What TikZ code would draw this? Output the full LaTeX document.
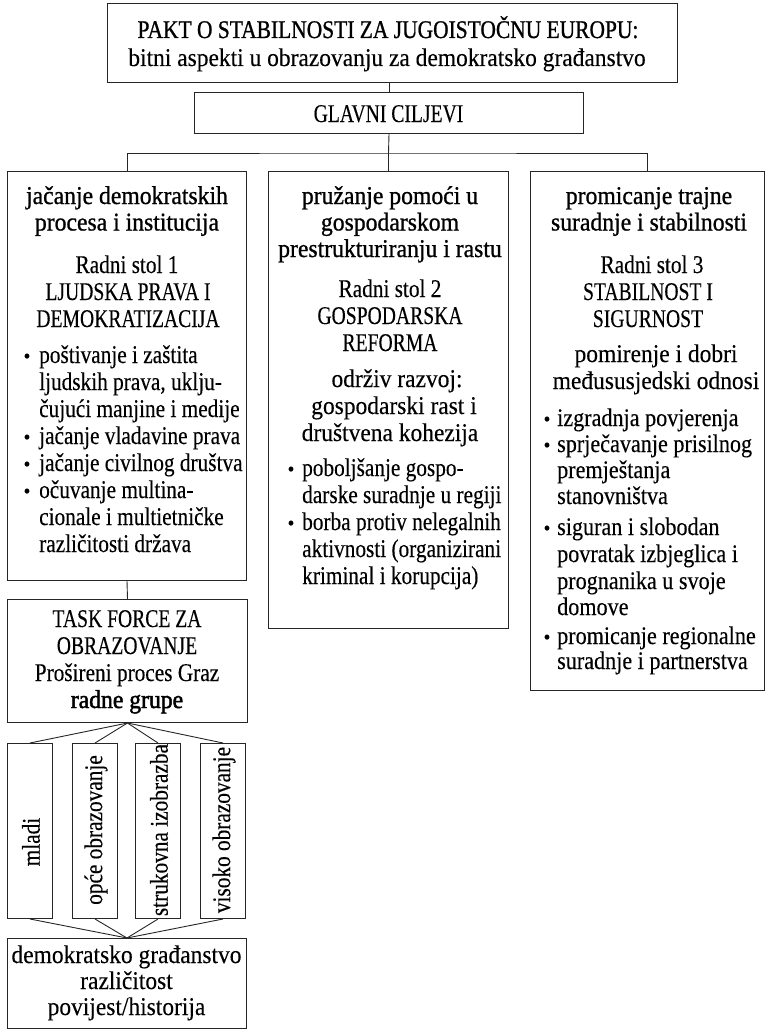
\documentclass[tikz,border=0pt]{standalone}
\usepackage{fontspec}
\setmainfont[FakeStretch=0.92,FakeBold=0.25]{Liberation Serif}
\newfontfamily\headf[FakeStretch=0.925,FakeBold=0.9]{Liberation Serif}
\newfontfamily\capsf[FakeStretch=0.77,FakeBold=0.25]{Liberation Serif}
\newfontfamily\listf[FakeStretch=0.835,FakeBold=0.25]{Liberation Serif}
\newfontfamily\listrf[FakeStretch=0.875,FakeBold=0.25]{Liberation Serif}
\newfontfamily\paktf[FakeStretch=0.845,FakeBold=0.9]{Liberation Serif}
\newfontfamily\boldf[FakeStretch=0.92,FakeBold=1.8]{Liberation Serif}
\begin{document}
\begin{tikzpicture}[x=1pt,y=-1pt,
  box/.style={draw=black!85,line width=1pt,inner sep=0pt,anchor=north west},
  conn/.style={draw=black!85,line width=0.9pt},
  txt/.style={inner sep=0pt,anchor=base,font=\fontsize{25.5}{27}\selectfont},
  capt/.style={txt,font=\fontsize{25.5}{27}\capsf},
  listt/.style={txt,font=\fontsize{25.5}{27}\listf},
  head/.style={txt,font=\fontsize{25.6}{27}\headf},
  pakt/.style={txt,font=\fontsize{25.4}{27}\paktf},
  bhead/.style={txt,font=\fontsize{25.7}{27}\boldf},
  ltxt/.style={listt,anchor=base west},
  rtxt/.style={txt,anchor=base west,font=\fontsize{25.3}{27}\listrf},
  bul/.style={txt,anchor=base,font=\fontsize{21}{26}\selectfont},
  vtxt/.style={inner sep=0pt,rotate=90,anchor=center,font=\fontsize{25.5}{27}\listf}]
\useasboundingbox (0,0) rectangle (766,1030);
% boxes
\node[box,minimum width=570pt,minimum height=79pt] (top) at (107,3) {};
\node[box,minimum width=389pt,minimum height=41pt] (glavni) at (194,92) {};
\node[box,minimum width=239pt,minimum height=409pt] (L) at (7,171) {};
\node[box,minimum width=240pt,minimum height=457pt] (M) at (268,171) {};
\node[box,minimum width=234pt,minimum height=519pt] (R) at (530,171) {};
\node[box,minimum width=240pt,minimum height=123pt] (T) at (7,599) {};
\node[box,minimum width=45pt,minimum height=175pt] (v1) at (7,743) {};
\node[box,minimum width=45pt,minimum height=175pt] (v2) at (72,743) {};
\node[box,minimum width=45pt,minimum height=175pt] (v3) at (135,743) {};
\node[box,minimum width=45pt,minimum height=175pt] (v4) at (200,743) {};
\node[box,minimum width=239pt,minimum height=90pt] (B) at (7,938) {};
% connectors
\coordinate (hub) at (388.5,153);
\draw[conn] (glavni.north |- top.south) -- (glavni.north);
\draw[conn] (glavni.south) -- (hub);
\draw[conn] (L.north) |- (hub) -| (R.north);
\draw[conn] (hub) -- (M.north);
\draw[conn] (L.south) -- (T.north);
\foreach \v in {v1,v2,v3,v4} {
  \draw[conn] (T.south) -- (\v.north);
  \draw[conn] (\v.south) -- (B.north);
}
% top texts
\node[pakt] (t1) at (388,38) {PAKT O STABILNOSTI ZA JUGOISTOČNU EUROPU:};
\node[txt] (t2) at (387,66) {bitni aspekti u obrazovanju za demokratsko građanstvo};
\node[capt] (g1) at (388.5,122) {GLAVNI CILJEVI};
% left column
\foreach \yy/\myline [count=\i] in {204/jačanje demokratskih,230.5/procesa i institucija}
  \node[head] (Lh\i) at (127,\yy) {\myline};
\node[listt] (Ls1) at (127,273) {Radni stol 1};
\foreach \yy/\myline [count=\i] in {300/LJUDSKA PRAVA I,327/DEMOKRATIZACIJA}
  \node[capt] (Lc\i) at (128,\yy) {\myline};
\foreach \yy/\myline [count=\i] in {363/poštivanje i zaštita,390/{ljudskih prava, uklju-},417/čujući manjine i medije,444/jačanje vladavine prava,471/jačanje civilnog društva,498/očuvanje multina-,525/cionale i multietničke,552/različitosti država}
  \node[ltxt] (Ll\i) at (39,\yy) {\myline};
\foreach \yy [count=\i] in {363,444,471,498}
  \node[bul] (Lb\i) at (27,\yy) {\textbullet};
% middle column
\foreach \yy/\myline [count=\i] in {204/pružanje pomoći u,230.5/gospodarskom,257/prestrukturiranju i rastu}
  \node[head] (Mh\i) at (390,\yy) {\myline};
\node[listt] (Ms1) at (390,297) {Radni stol 2};
\foreach \yy/\myline [count=\i] in {324/GOSPODARSKA,351/REFORMA}
  \node[capt] (Mc\i) at (390,\yy) {\myline};
\node[txt] (Mo1) at (397,387) {održiv razvoj:};
\node[txt] (Mo2) at (394,414) {gospodarski rast i};
\node[txt] (Mo3) at (390,441) {društvena kohezija};
\foreach \yy/\myline [count=\i] in {476/poboljšanje gospo-,503/darske suradnje u regiji,530/borba protiv nelegalnih,557/aktivnosti (organizirani,584/kriminal i korupcija)}
  \node[ltxt] (Ml\i) at (302,\yy) {\myline};
\foreach \yy [count=\i] in {476,530}
  \node[bul] (Mb\i) at (291,\yy) {\textbullet};
% right column
\foreach \yy/\myline [count=\i] in {204/promicanje trajne,230.5/suradnje i stabilnosti}
  \node[head] (Rh\i) at (649,\yy) {\myline};
\node[listt] (Rs1) at (652,273) {Radni stol 3};
\foreach \yy/\myline [count=\i] in {300/STABILNOST I,327/SIGURNOST}
  \node[capt] (Rc\i) at (648,\yy) {\myline};
\foreach \yy/\myline [count=\i] in {362/pomirenje i dobri,389/međususjedski odnosi}
  \node[txt] (Ro\i) at (656,\yy) {\myline};
\foreach \yy/\myline [count=\i] in {426/izgradnja povjerenja,452/sprječavanje prisilnog,478/premještanja,504/stanovništva,535/siguran i slobodan,562/povratak izbjeglica i,589/prognanika u svoje,615/domove,644/promicanje regionalne,669/suradnje i partnerstva}
  \node[rtxt] (Rl\i) at (557,\yy) {\myline};
\foreach \yy [count=\i] in {426,452,535,644}
  \node[bul] (Rb\i) at (547,\yy) {\textbullet};
% task force
\foreach \yy/\myline [count=\i] in {627/TASK FORCE ZA,654/OBRAZOVANJE}
  \node[capt] (Tc\i) at (127,\yy) {\myline};
\node[listt] (Tt3) at (127,681) {Prošireni proces Graz};
\node[bhead] (Tt4) at (127,708) {radne grupe};
% vertical texts
\node[vtxt] (v1t) at (31,842) {mladi};
\node[vtxt] (v2t) at (96,830) {opće obrazovanje};
\node[vtxt] (v3t) at (159,830) {strukovna izobrazba};
\node[vtxt] (v4t) at (224,830) {visoko obrazovanje};
% bottom box
\node[txt] (B1) at (126.5,963) {demokratsko građanstvo};
\node[txt] (B2) at (126.5,989) {različitost};
\node[txt] (B3) at (126.5,1015) {povijest/historija};
\end{tikzpicture}
\end{document}
